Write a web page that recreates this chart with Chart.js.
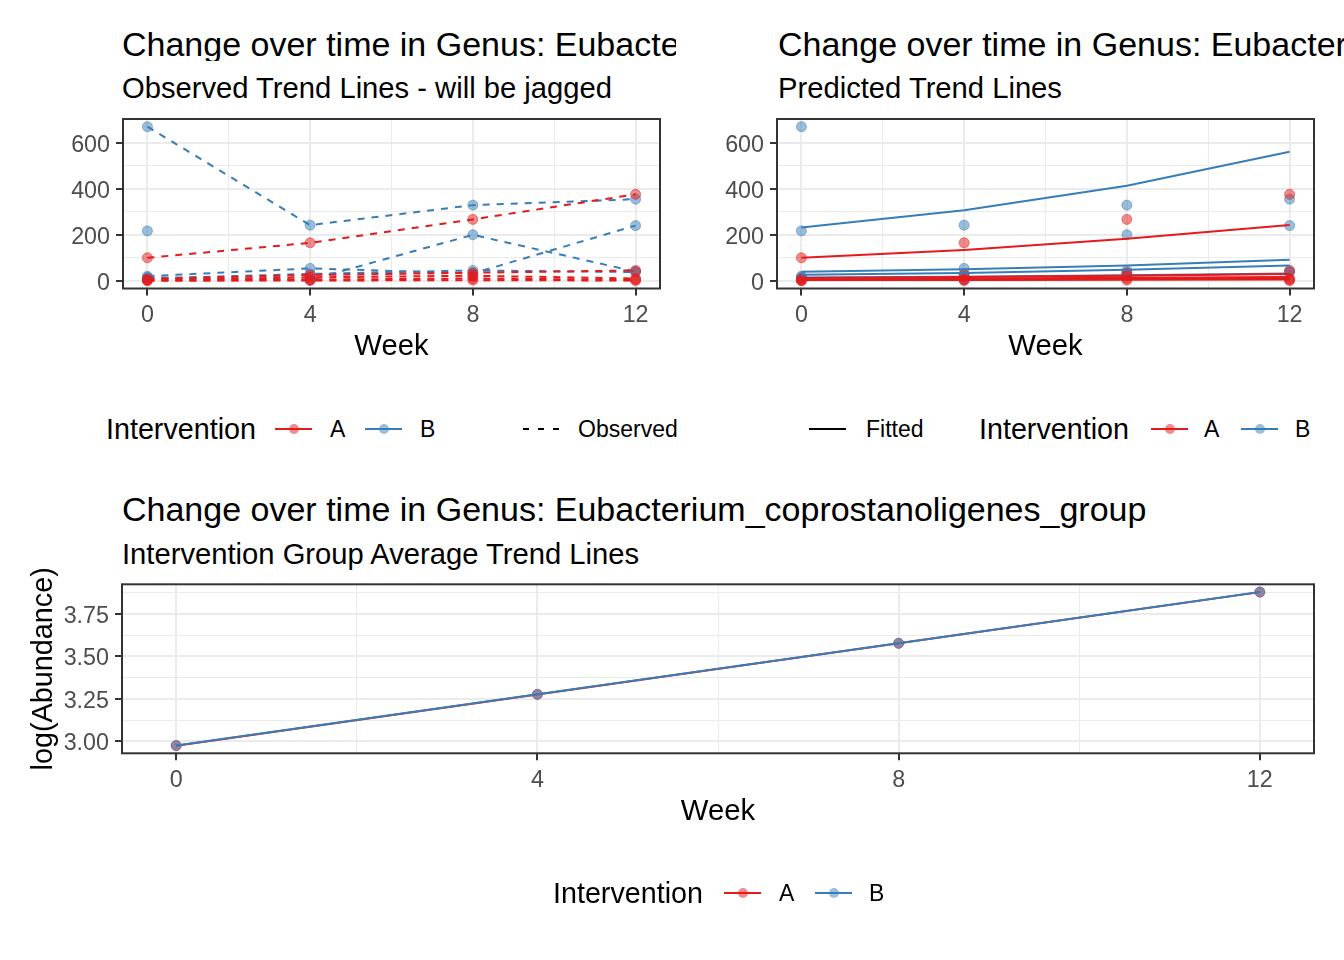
<!DOCTYPE html>
<html lang="en">
  <head>
    <meta charset="UTF-8" />
    <title>Change over time in Genus: Eubacterium_coprostanoligenes_group</title>
    <script src="https://cdn.jsdelivr.net/npm/chart.js@4.4.0/dist/chart.umd.min.js"></script>
    <style>
      body {
        margin: 0;
        width: 1344px;
        height: 960px;
        position: relative;
        overflow: hidden;
        background: #fff;
        font-family: "Liberation Sans", Arial, sans-serif;
      }
      canvas {
        position: absolute;
      }
      .txt {
        position: absolute;
        white-space: nowrap;
        line-height: 1;
        color: #000;
      }
      .key {
        position: absolute;
        height: 2px;
        width: 37px;
      }
      .key i {
        position: absolute;
        left: 50%;
        top: 50%;
        width: 10px;
        height: 10px;
        margin: -5px 0 0 -5px;
        border-radius: 50%;
      }
      .dash {
        background: repeating-linear-gradient(to right, #000 0 6.5px, transparent 6.5px 15px);
      }
    </style>
  </head>

  <body>
    <!-- titles -->
    <div class="txt" style="left:122px; top:27px; font-size:34px; width:554px; overflow:hidden">Change over time in Genus: Eubacterium_coprostanoligenes_group</div>
    <div class="txt" style="left:122px; top:74.3px; font-size:29.2px">Observed Trend Lines - will be jagged</div>
    <div class="txt" style="left:778px; top:27px; font-size:34px">Change over time in Genus: Eubacterium_coprostanoligenes_group</div>
    <div class="txt" style="left:778px; top:74.3px; font-size:29.2px">Predicted Trend Lines</div>
    <div class="txt" style="left:122px; top:492px; font-size:34px">Change over time in Genus: Eubacterium_coprostanoligenes_group</div>
    <div class="txt" style="left:122px; top:540.3px; font-size:29.2px">Intervention Group Average Trend Lines</div>

    <canvas id="obs" width="672" height="380" style="left:0; top:0"></canvas>
    <canvas id="fit" width="672" height="380" style="left:672px; top:0"></canvas>
    <canvas id="avg" width="1344" height="420" style="left:0; top:460px"></canvas>

    <!-- legend, top left -->
    <div class="txt" style="left:106px; top:414.5px; font-size:28.7px">Intervention</div>
    <div class="key" style="left:275px; top:427.5px; background:#E41A1C"><i style="background:rgba(228,26,28,0.5)"></i></div>
    <div class="txt" style="left:330px; top:417.5px; font-size:23px">A</div>
    <div class="key" style="left:365px; top:427.5px; background:#377EB8"><i style="background:rgba(55,126,184,0.5)"></i></div>
    <div class="txt" style="left:420px; top:417.5px; font-size:23px">B</div>
    <div class="key dash" style="left:523px; top:427.5px"></div>
    <div class="txt" style="left:578px; top:417.5px; font-size:23px">Observed</div>

    <!-- legend, top right -->
    <div class="key" style="left:809px; top:427.5px; background:#000"></div>
    <div class="txt" style="left:866px; top:417.5px; font-size:23px">Fitted</div>
    <div class="txt" style="left:979px; top:414.5px; font-size:28.7px">Intervention</div>
    <div class="key" style="left:1151px; top:427.5px; background:#E41A1C"><i style="background:rgba(228,26,28,0.5)"></i></div>
    <div class="txt" style="left:1204px; top:417.5px; font-size:23px">A</div>
    <div class="key" style="left:1241px; top:427.5px; background:#377EB8"><i style="background:rgba(55,126,184,0.5)"></i></div>
    <div class="txt" style="left:1295px; top:417.5px; font-size:23px">B</div>

    <!-- legend, bottom -->
    <div class="txt" style="left:553px; top:879px; font-size:28.7px">Intervention</div>
    <div class="key" style="left:724px; top:892px; background:#E41A1C"><i style="background:rgba(228,26,28,0.5)"></i></div>
    <div class="txt" style="left:779px; top:882px; font-size:23px">A</div>
    <div class="key" style="left:815px; top:892px; background:#377EB8"><i style="background:rgba(55,126,184,0.5)"></i></div>
    <div class="txt" style="left:869px; top:882px; font-size:23px">B</div>

    <script>
      const weeks = [0, 4, 8, 12];

      // observed abundance, one row per subject
      const obsA = [
        [100, 165, 267, 376],
        [8, 25, 35, 45],
        [3, 15, 22, 10],
        [0, 5, 10, 4],
        [2, 1, 3, 1],
      ];
      const obsB = [
        [670, 242, 329, 355],
        [217, null, null, null],
        [15, 4, 200, 40],
        [20, 54, 32, 240],
        [10, 30, 45, 38],
      ];

      // model predictions, one row per subject
      const fitA = [
        [100, 134, 183, 243],
        [12, 16, 22, 30],
        [8, 10, 13, 17],
        [5, 6, 8, 10],
        [3, 4, 5, 6],
      ];
      const fitB = [
        [232, 307, 413, 561],
        [39, 50, 66, 91],
        [26, 34, 48, 67],
        [14, 18, 24, 32],
      ];

      // group average of log(Abundance)
      const avgA = [2.975, 3.276, 3.576, 3.877];
      const avgB = [2.976, 3.277, 3.577, 3.878];

      const weekTicks = [0, 4, 8, 12];
      const weekMinor = [2, 6, 10];
      const abundTicks = [0, 200, 400, 600];
      const abundMinor = [100, 300, 500];
      const logTicks = [3.0, 3.25, 3.5, 3.75];
      const logMinor = [3.125, 3.375, 3.625, 3.875];

      const red = "#E41A1C";
      const blue = "#377EB8";
      const redPt = "rgba(228,26,28,0.5)";
      const bluePt = "rgba(55,126,184,0.5)";

      Chart.defaults.font.family = '"Liberation Sans", Arial, sans-serif';

      function pts(vals) {
        return weeks.map((w, i) => ({ x: w, y: vals[i] }));
      }

      function scale(major, minor, min, max, fmt, size, title) {
        return {
          type: "linear",
          min: min,
          max: max,
          afterBuildTicks: (ax) => {
            ax.ticks = major
              .concat(minor)
              .sort((a, b) => a - b)
              .map((v) => ({ value: v }));
          },
          afterFit: (ax) => {
            if (ax.isHorizontal()) ax.height = size;
            else ax.width = size;
          },
          ticks: {
            autoSkip: false,
            maxRotation: 0,
            padding: 6,
            labelOffset: title && title.text === "Week" ? 0 : 2.5,
            color: "#4D4D4D",
            font: { size: 23.3 },
            callback: (v) => (major.includes(v) ? fmt(v) : ""),
          },
          grid: {
            color: "#EBEBEB",
            lineWidth: (c) => (c.tick && major.includes(c.tick.value) ? 2 : 1),
            tickLength: 7,
            tickWidth: 2,
            tickColor: (c) =>
              c.tick && major.includes(c.tick.value) ? "#333333" : "rgba(0,0,0,0)",
          },
          border: { display: false },
          title: title || { display: false },
        };
      }

      const panelBox = {
        id: "panelBox",
        afterDraw(chart) {
          const { ctx, chartArea: a } = chart;
          ctx.save();
          ctx.strokeStyle = "#333333";
          ctx.lineWidth = 2;
          ctx.strokeRect(a.left, a.top, a.right - a.left, a.bottom - a.top);
          ctx.restore();
        },
      };

      const weekTitle = (pad) => ({
        display: true,
        text: "Week",
        color: "#000",
        font: { size: 29.3 },
        padding: { top: 0, bottom: pad },
      });

      const dot = (fill) => ({
        pointRadius: 5,
        pointBackgroundColor: fill,
        pointBorderColor: fill,
        pointBorderWidth: 1,
      });

      function makeChart(id, datasets, x, y, padding) {
        return new Chart(document.getElementById(id), {
          type: "line",
          data: { datasets: datasets },
          options: {
            responsive: false,
            animation: false,
            events: [],
            layout: { padding: padding },
            plugins: { legend: { display: false }, tooltip: { enabled: false } },
            elements: { line: { tension: 0 } },
            scales: { x: x, y: y },
          },
          plugins: [panelBox],
        });
      }

      // observed panel
      let obsSets = [];
      obsA.forEach((v) => {
        obsSets.push({
          data: pts(v),
          borderColor: red,
          borderWidth: 2,
          borderDash: [7, 7],
          spanGaps: true,
          ...dot(redPt),
        });
      });
      obsB.forEach((v) => {
        obsSets.push({
          data: pts(v),
          borderColor: blue,
          borderWidth: 2,
          borderDash: [7, 7],
          spanGaps: true,
          ...dot(bluePt),
        });
      });

      makeChart(
        "obs",
        obsSets,
        scale(weekTicks, weekMinor, -0.6, 12.6, (v) => String(v), 91.5, weekTitle(15.5)),
        scale(abundTicks, abundMinor, -33.5, 703.5, (v) => String(v), 123),
        { left: 0, top: 119, right: 12, bottom: 0 }
      );

      // predicted panel
      let fitSets = [];
      fitA.forEach((v) => {
        fitSets.push({ data: pts(v), borderColor: red, borderWidth: 2, pointRadius: 0 });
      });
      fitB.forEach((v) => {
        fitSets.push({ data: pts(v), borderColor: blue, borderWidth: 2, pointRadius: 0 });
      });
      obsA.forEach((v) => {
        fitSets.push({ data: pts(v), showLine: false, ...dot(redPt) });
      });
      obsB.forEach((v) => {
        fitSets.push({ data: pts(v), showLine: false, ...dot(bluePt) });
      });

      makeChart(
        "fit",
        fitSets,
        scale(weekTicks, weekMinor, -0.6, 12.6, (v) => String(v), 91.5, weekTitle(15.5)),
        scale(abundTicks, abundMinor, -33.5, 703.5, (v) => String(v), 105),
        { left: 0, top: 119, right: 30, bottom: 0 }
      );

      // group averages
      makeChart(
        "avg",
        [
          { data: pts(avgB), borderColor: blue, borderWidth: 2, ...dot(bluePt) },
          { data: pts(avgA), borderColor: red, borderWidth: 2, ...dot(redPt) },
        ],
        scale(weekTicks, weekMinor, -0.6, 12.6, (v) => String(v), 126.7, weekTitle(50.4)),
        scale(logTicks, logMinor, 2.93, 3.923, (v) => v.toFixed(2), 122, {
          display: true,
          text: "log(Abundance)",
          color: "#000",
          font: { size: 28.8 },
          padding: { top: 27, bottom: 0 },
        }),
        { left: 0, top: 124.3, right: 30, bottom: 0 }
      );
    </script>
  </body>
</html>
